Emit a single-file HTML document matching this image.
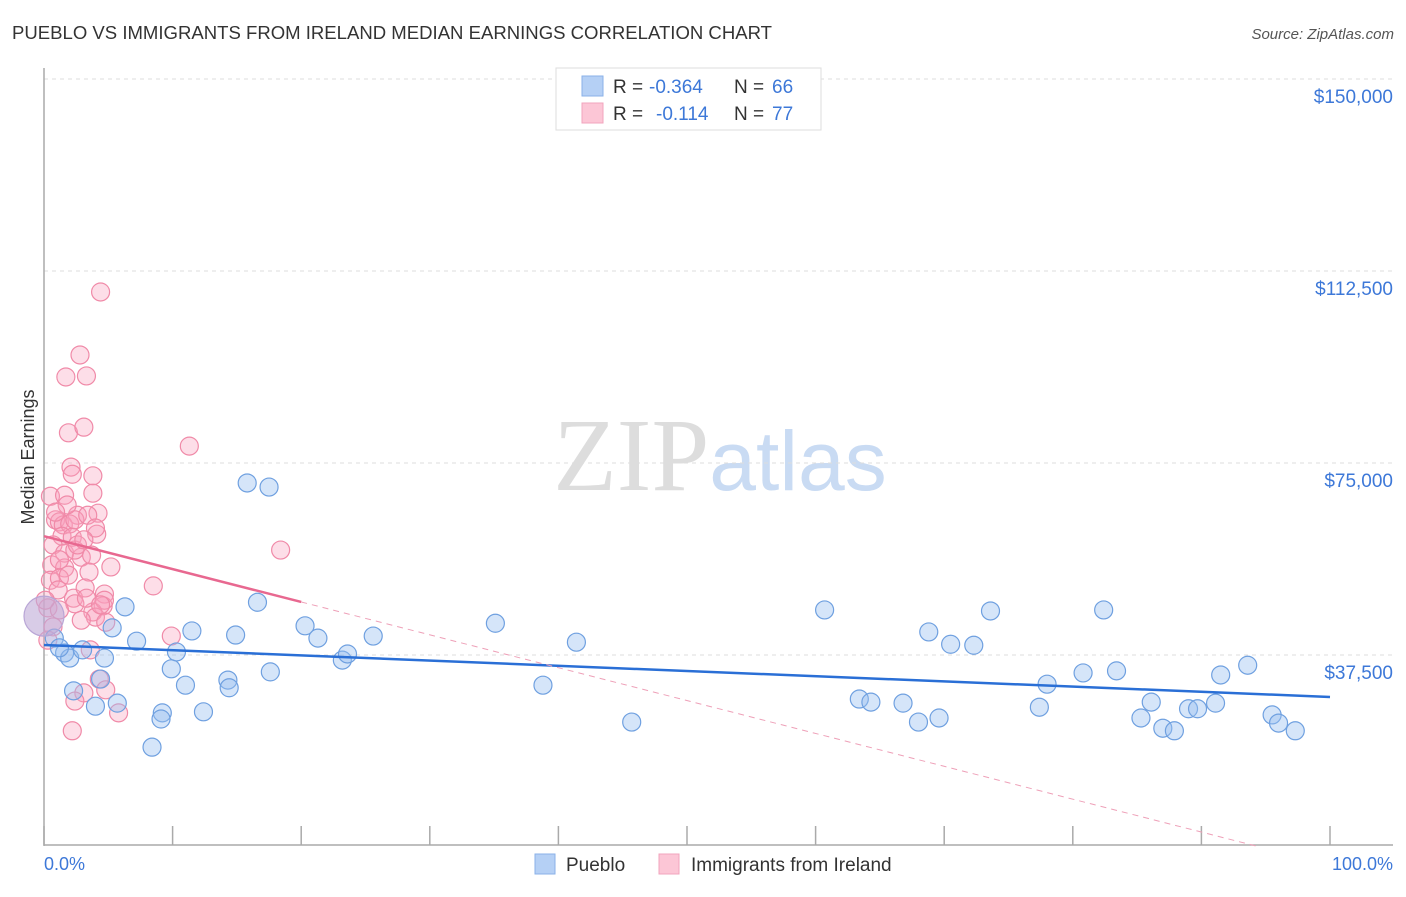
<!DOCTYPE html>
<html><head><meta charset="utf-8"><style>
body{margin:0;background:#fff;font-family:"Liberation Sans",sans-serif;}
</style></head><body>
<svg id="chart" width="1406" height="892" xmlns="http://www.w3.org/2000/svg" font-family="Liberation Sans, sans-serif">
<text x="12" y="39" font-size="18.5" fill="#333" textLength="760" lengthAdjust="spacingAndGlyphs">PUEBLO VS IMMIGRANTS FROM IRELAND MEDIAN EARNINGS CORRELATION CHART</text>
<text x="1394" y="39" font-size="15" fill="#555" font-style="italic" text-anchor="end">Source: ZipAtlas.com</text>
<text x="720" y="490" font-size="104" text-anchor="middle"><tspan fill="#ddd" font-family="Liberation Serif, serif">ZIP</tspan><tspan fill="#c9dbf3" font-size="84">atlas</tspan></text>
<g id="grid"></g>
<g id="axes"></g>
<g id="marks"></g>
<text transform="translate(34,457) rotate(-90)" font-size="18" fill="#333" text-anchor="middle">Median Earnings</text>
<g>
<rect x="556" y="68" width="265" height="62" fill="#fff" stroke="#ddd"/>
<rect x="582" y="76" width="21" height="20" fill="#b5d0f5" stroke="#8ab1e8"/>
<rect x="582" y="103" width="21" height="20" fill="#fcc6d6" stroke="#f2a4bd"/>
<text x="613" y="93" font-size="19" fill="#333">R =</text>
<text x="649" y="93" font-size="19" fill="#3d78d8">-0.364</text>
<text x="734" y="93" font-size="19" fill="#333">N =</text>
<text x="772" y="93" font-size="19" fill="#3d78d8">66</text>
<text x="613" y="120" font-size="19" fill="#333">R =</text>
<text x="656" y="120" font-size="19" fill="#3d78d8">-0.114</text>
<text x="734" y="120" font-size="19" fill="#333">N =</text>
<text x="772" y="120" font-size="19" fill="#3d78d8">77</text>
</g>
<g>
<rect x="535" y="854" width="20" height="20" fill="#b5d0f5" stroke="#8ab1e8"/>
<text x="566" y="871" font-size="19" fill="#333">Pueblo</text>
<rect x="659" y="854" width="20" height="20" fill="#fcc6d6" stroke="#f2a4bd"/>
<text x="691" y="871" font-size="19" fill="#333">Immigrants from Ireland</text>
</g>
<text x="44" y="870" font-size="18" fill="#3d78d8">0.0%</text>
<text x="1393" y="870" font-size="18" fill="#3d78d8" text-anchor="end">100.0%</text>
</svg>
<script>
const yTicks=[37500,75000,112500,150000];
const yTickLabels=["$37,500","$75,000","$112,500","$150,000"];
const xTicks=[0,10,20,30,40,50,60,70,80,90,100];
const puebloX=[15.8,17.5,6.3,16.6,11.5,7.2,5.3,0.8,1.6,2.0,3.0,4.7,10.3,14.9,20.3,21.3,23.2,23.6,25.6,35.1,41.4,60.7,68.8,70.5,72.3,73.6,82.4,9.9,14.3,17.6,14.4,11.0,4.4,2.3,4.0,5.7,9.2,9.1,12.4,8.4,38.8,45.7,63.4,64.3,66.8,68.0,69.6,77.4,78.0,80.8,83.4,85.3,86.1,87.0,87.9,89.0,89.7,91.1,91.5,93.6,95.5,96.0,97.3,1.2,0];
const puebloY=[71.1,70.3,46.9,47.8,42.2,40.2,42.8,40.8,37.9,36.9,38.5,36.9,38.1,41.4,43.2,40.8,36.5,37.7,41.2,43.7,40.0,46.3,42.0,39.6,39.4,46.1,46.3,34.8,32.6,34.2,31.1,31.6,32.8,30.5,27.5,28.1,26.2,25.0,26.4,19.5,31.6,24.4,28.9,28.3,28.1,24.4,25.2,27.3,31.8,34.0,34.4,25.2,28.3,23.2,22.7,27.0,27.0,28.1,33.6,35.5,25.8,24.2,22.7,38.9,45.1];
const irelandX=[4.4,2.8,1.7,3.3,1.9,3.1,11.3,2.1,2.2,3.8,3.8,18.4,8.5,0.5,1.6,4.2,2.6,0.9,1.2,1.5,2.0,2.4,3.4,1.4,2.2,0.7,4.1,1.6,2.9,2.4,3.7,0.6,1.6,5.2,3.5,0.5,1.2,9.9,2.3,3.2,4.7,2.4,4.6,3.8,0.3,4.0,4.8,1.2,3.6,4.3,3.1,2.4,4.8,5.8,2.2,4.7,3.3,1.1,2.9,0.7,1.9,0.1,1.2,2.6,1.8,0.9,4.0,3.1,4.4,0.3];
const irelandY=[108.4,96.1,91.8,92.0,80.9,82.0,78.3,74.2,72.8,72.5,69.1,58.0,51.0,68.5,68.7,65.2,64.8,63.9,63.5,62.9,63.1,63.9,64.8,60.7,60.5,59.0,61.1,57.4,56.6,58.0,57.0,55.1,54.5,54.7,53.7,52.1,52.5,41.2,48.6,50.6,49.4,47.5,47.1,45.9,46.7,44.9,43.9,46.3,38.5,32.8,30.1,28.5,30.7,26.2,22.7,48.2,48.6,50.2,44.3,43.0,53.1,48.2,56.1,59.0,66.8,65.4,62.3,60.0,47.3,40.4];
const puebloTrend=[39.45,29.3]; // at 0% and 100%, thousands
const irelandTrend=[60.7,-0.642]; // intercept, slope per %
const NS="http://www.w3.org/2000/svg";
const X=p=>44+p*12.86;
const Y=v=>847-v/37.5*192; // v in thousands
function mk(tag,attrs,parent){const e=document.createElementNS(NS,tag);for(const k in attrs)e.setAttribute(k,attrs[k]);parent.appendChild(e);return e;}
const grid=document.getElementById('grid'),axes=document.getElementById('axes'),marks=document.getElementById('marks');
yTicks.forEach((t,i)=>{
 const y=Y(t/1000);
 const l=mk('line',{x1:44,x2:1393,y1:y,y2:y,stroke:'#ddd','stroke-dasharray':'4,4'},grid);
 
 
 const tx=mk('text',{x:1393,y:y+24,'font-size':19,fill:'#3d78d8','text-anchor':'end'},grid);
 tx.textContent=yTickLabels[i];
 
 
});
const ax=mk('line',{x1:44,x2:44,y1:68,y2:846,stroke:'#aaa','stroke-width':1.5},axes);


const bx=mk('line',{x1:44,x2:1393,y1:845,y2:845,stroke:'#aaa','stroke-width':1.5},axes);


xTicks.forEach(t=>{
 const tk=mk('line',{x1:X(t),x2:X(t),y1:826,y2:845,stroke:'#aaa','stroke-width':1.5},axes);
 
 
});
irelandX.forEach((x,i)=>{
 const c=mk('circle',{cx:X(x),cy:Y(irelandY[i]),r:9,fill:'rgba(248,160,190,0.35)',stroke:'#f08aa8','stroke-width':1.2},marks);
 
 
});
puebloX.forEach((x,i)=>{
 const big=i===puebloX.length-1;
 const c=mk('circle',{cx:X(x),cy:Y(puebloY[i]),r:big?20:9,fill:big?'rgba(190,170,215,0.6)':'rgba(150,190,240,0.4)',stroke:big?'#b9a6d6':'#6fa0e0','stroke-width':1.2},marks);
 
 
});
const pl=mk('line',{x1:X(0),y1:Y(puebloTrend[0]),x2:X(100),y2:Y(puebloTrend[1]),stroke:'#2a6fd6','stroke-width':2.5},marks);


const iS=mk('line',{x1:X(0),y1:Y(irelandTrend[0]),x2:X(20),y2:Y(irelandTrend[0]+irelandTrend[1]*20),stroke:'#e86890','stroke-width':2.5},marks);


const xEnd=-irelandTrend[0]/irelandTrend[1];
const iD=mk('line',{x1:X(20),y1:Y(irelandTrend[0]+irelandTrend[1]*20),x2:X(xEnd),y2:Y(irelandTrend[0]+irelandTrend[1]*xEnd),stroke:'#eea0b8','stroke-width':1,'stroke-dasharray':'6,5'},marks);


</script>
</body></html>
